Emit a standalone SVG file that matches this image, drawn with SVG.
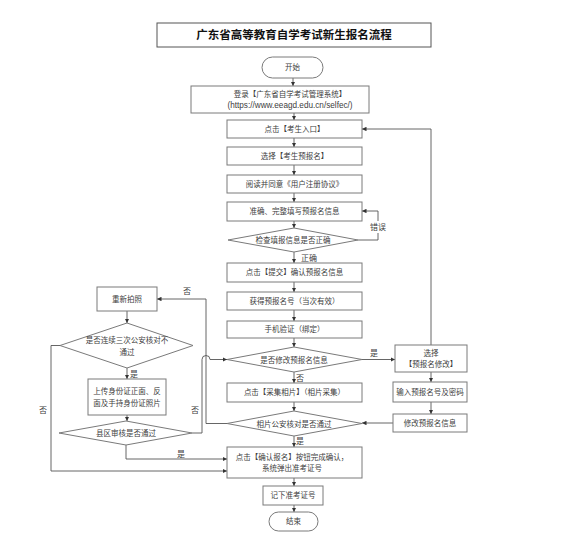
<svg xmlns="http://www.w3.org/2000/svg" width="574" height="549" viewBox="0 0 574 549">
<style>
text{font-family:"Liberation Sans","Noto Sans CJK SC",sans-serif;font-size:7.5px;fill:#404040;text-anchor:middle;dominant-baseline:central}
.title{font-size:11.5px;font-weight:bold;fill:#111}
.lbl{font-size:8px}
.url{font-size:8.2px}
.box{fill:#fff;stroke:#7a7a7a;stroke-width:1}
.tb{fill:#fff;stroke:#555;stroke-width:1}
.ln{fill:none;stroke:#555;stroke-width:0.9}
</style>
<defs>
<marker id="ah" viewBox="0 0 6 6" refX="6" refY="3" markerWidth="4.5" markerHeight="4.5" orient="auto" markerUnits="userSpaceOnUse">
<path d="M0,0 L6,3 L0,6 z" fill="#333"/>
</marker>
</defs>
<rect width="574" height="549" fill="#fff"/>
<g id="title"><rect class="tb" x="157" y="23" width="274" height="24"/><text class="title" x="294" y="35">广东省高等教育自学考试新生报名流程</text></g>
<g id="connectors">
<path class="ln" marker-end="url(#ah)" d="M293,78 V86"/>
<path class="ln" marker-end="url(#ah)" d="M294,113 V120"/>
<path class="ln" marker-end="url(#ah)" d="M294,138 V147"/>
<path class="ln" marker-end="url(#ah)" d="M294,165 V175"/>
<path class="ln" marker-end="url(#ah)" d="M294,193 V202"/>
<path class="ln" marker-end="url(#ah)" d="M294,221 V228"/>
<path class="ln" marker-end="url(#ah)" d="M294,252 V263"/>
<path class="ln" marker-end="url(#ah)" d="M294,282 V292"/>
<path class="ln" marker-end="url(#ah)" d="M294,310 V321"/>
<path class="ln" marker-end="url(#ah)" d="M294,338 V347"/>
<path class="ln" marker-end="url(#ah)" d="M294,372 V383"/>
<path class="ln" marker-end="url(#ah)" d="M294,402 V411"/>
<path class="ln" marker-end="url(#ah)" d="M294,436 V447"/>
<path class="ln" marker-end="url(#ah)" d="M294,478 V486"/>
<path class="ln" marker-end="url(#ah)" d="M294,505 V512"/>
<path class="ln" marker-end="url(#ah)" d="M358,240 H378 V211 H362"/>
<path class="ln" marker-end="url(#ah)" d="M362,359.5 H395"/>
<path class="ln" marker-end="url(#ah)" d="M431,372 V382"/>
<path class="ln" marker-end="url(#ah)" d="M431,402 V414"/>
<path class="ln" marker-end="url(#ah)" d="M393,423 H362"/>
<path class="ln" marker-end="url(#ah)" d="M431,345 V129 H362"/>
<path class="ln" marker-end="url(#ah)" d="M227,423.5 H206 V299 H157"/>
<path class="ln" marker-end="url(#ah)" d="M127,311 V323"/>
<path class="ln" marker-end="url(#ah)" d="M127,368 V379"/>
<path class="ln" marker-end="url(#ah)" d="M127,415 V421"/>
<path class="ln" marker-end="url(#ah)" d="M126,445 V459 H227"/>
<path class="ln" marker-end="url(#ah)" d="M60,345.5 H51 V471 H227"/>
<path class="ln" marker-end="url(#ah)" d="M192,433 H202 V359.5 A4,4 0 0 1 210,359.5 H227"/>
<rect x="371" y="221" width="14" height="12" fill="#fff"/>
<text class="lbl" x="378" y="227">错误</text>
<text class="lbl" x="309" y="258">正确</text>
<text class="lbl" x="374" y="353">是</text>
<text class="lbl" x="300" y="378">否</text>
<text class="lbl" x="300" y="441">是</text>
<text class="lbl" x="187" y="291">否</text>
<text class="lbl" x="134" y="374">是</text>
<text class="lbl" x="195" y="410">否</text>
<text class="lbl" x="43" y="410">否</text>
<text class="lbl" x="181" y="454">是</text>
</g>
<g id="start"><rect class="box" x="262" y="57" width="61" height="21" rx="10.5"/><text x="292.5" y="67.5">开始</text></g>
<g id="login"><rect class="box" x="191" y="86" width="178" height="27"/><text x="290" y="94">登录【广东省自学考试管理系统】</text><text class="url" x="290" y="105">(https://www.eeagd.edu.cn/selfec/)</text></g>
<g id="entry"><rect class="box" x="227" y="120" width="135" height="18"/><text x="294.5" y="129">点击【考生入口】</text></g>
<g id="choose"><rect class="box" x="227" y="147" width="135" height="18"/><text x="294.5" y="156">选择【考生预报名】</text></g>
<g id="agree"><rect class="box" x="227" y="175" width="135" height="18"/><text x="294.5" y="184">阅读并同意《用户注册协议》</text></g>
<g id="fill"><rect class="box" x="227" y="202" width="135" height="19"/><text x="294.5" y="211.5">准确、完整填写预报名信息</text></g>
<g id="check"><polygon class="box" points="294,228 358,240 294,252 228,240"/><text x="293" y="240.5">检查填报信息是否正确</text></g>
<g id="submit"><rect class="box" x="227" y="263" width="135" height="19"/><text x="294.5" y="272.5">点击【提交】确认预报名信息</text></g>
<g id="getno"><rect class="box" x="227" y="292" width="135" height="18"/><text x="294.5" y="301">获得预报名号（当次有效）</text></g>
<g id="phone"><rect class="box" x="227" y="321" width="135" height="17"/><text x="294.5" y="329.5">手机验证（绑定）</text></g>
<g id="modify"><polygon class="box" points="294,347 362,359.5 294,372 227,359.5"/><text x="294" y="360">是否修改预报名信息</text></g>
<g id="photo"><rect class="box" x="227" y="383" width="135" height="19"/><text x="294.5" y="392.5">点击【采集相片】（相片采集）</text></g>
<g id="photocheck"><polygon class="box" points="294,411 362,423.5 294,436 227,423.5"/><text x="294" y="424">相片公安核对是否通过</text></g>
<g id="confirm"><rect class="box" x="227" y="447" width="135" height="31"/><text x="292" y="457">点击【确认报名】按钮完成确认，</text><text x="292" y="468">系统弹出准考证号</text></g>
<g id="record"><rect class="box" x="263" y="486" width="60" height="19"/><text x="293" y="495.5">记下准考证号</text></g>
<g id="end"><rect class="box" x="269" y="512" width="49" height="19" rx="9.5"/><text x="293.5" y="521.5">结束</text></g>
<g id="chooseModify"><rect class="box" x="395" y="345" width="72" height="27"/><text x="431" y="353">选择</text><text x="431" y="364.5">【预报名修改】</text></g>
<g id="inputPwd"><rect class="box" x="393" y="382" width="74" height="20"/><text x="430" y="392">输入预报名号及密码</text></g>
<g id="editInfo"><rect class="box" x="393" y="414" width="74" height="18"/><text x="430" y="423">修改预报名信息</text></g>
<g id="retake"><rect class="box" x="97" y="287" width="60" height="24"/><text x="127" y="299">重新拍照</text></g>
<g id="threeFail"><polygon class="box" points="127,323 193,345.5 127,368 60,345.5"/><text x="127" y="340">是否连续三次公安核对不</text><text x="127" y="352">通过</text></g>
<g id="upload"><rect class="box" x="88" y="379" width="78" height="36"/><text x="127" y="391">上传身份证正面、反</text><text x="127" y="403">面及手持身份证照片</text></g>
<g id="county"><polygon class="box" points="126,421 192,433 126,445 59,433"/><text x="126" y="433.5">县区审核是否通过</text></g>
</svg>
